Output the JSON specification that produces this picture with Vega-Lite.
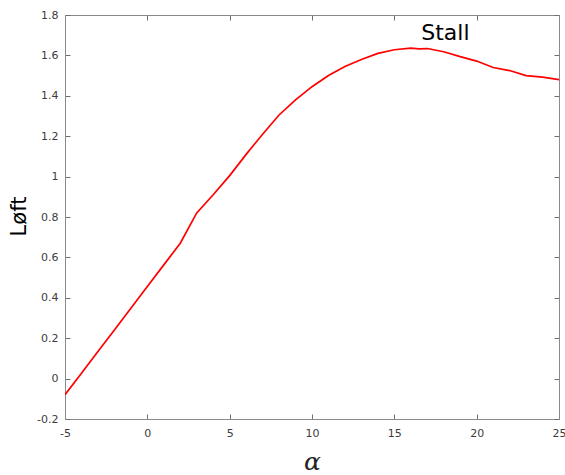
{
  "$schema": "https://vega.github.io/schema/vega-lite/v6.json",
  "autosize": "none",
  "width": 494,
  "height": 404,
  "padding": {"left": 65, "top": 15, "right": 6, "bottom": 56},
  "background": "white",
  "config": {
    "view": {"stroke": null},
    "axis": {
      "grid": false,
      "ticks": true,
      "domainColor": "#8a8a8a",
      "domainWidth": 1,
      "tickColor": "#707070",
      "tickWidth": 1,
      "tickSize": -5,
      "labelFont": "DejaVu Sans",
      "labelFontSize": 11,
      "labelColor": "#3c3c3c",
      "labelFlush": false,
      "labelOverlap": false
    }
  },
  "datasets": {
    "curve": [
      {"a": -5, "L": -0.08},
      {"a": -4, "L": 0.027},
      {"a": -3, "L": 0.134},
      {"a": -2, "L": 0.241},
      {"a": -1, "L": 0.348},
      {"a": 0, "L": 0.456},
      {"a": 1, "L": 0.563},
      {"a": 2, "L": 0.67},
      {"a": 3, "L": 0.82},
      {"a": 4, "L": 0.91},
      {"a": 5, "L": 1.005},
      {"a": 6, "L": 1.11},
      {"a": 7, "L": 1.21},
      {"a": 8, "L": 1.305},
      {"a": 9, "L": 1.38},
      {"a": 10, "L": 1.445},
      {"a": 11, "L": 1.5},
      {"a": 12, "L": 1.545},
      {"a": 13, "L": 1.58},
      {"a": 14, "L": 1.61},
      {"a": 15, "L": 1.628},
      {"a": 16, "L": 1.636},
      {"a": 16.5, "L": 1.632},
      {"a": 17, "L": 1.634},
      {"a": 18, "L": 1.618},
      {"a": 19, "L": 1.594},
      {"a": 20, "L": 1.572},
      {"a": 21, "L": 1.54},
      {"a": 22, "L": 1.525},
      {"a": 23, "L": 1.5},
      {"a": 24, "L": 1.492},
      {"a": 25, "L": 1.48}
    ],
    "notes": [
      {"a": 18.1, "L": 1.71, "label": "Stall"}
    ]
  },
  "layer": [
    {
      "data": {"name": "curve"},
      "mark": {"type": "line", "color": "#ff0000", "strokeWidth": 1.7, "clip": true},
      "encoding": {
        "x": {
          "field": "a", "type": "quantitative",
          "scale": {"domain": [-5, 25], "nice": false, "zero": false},
          "axis": {
            "orient": "bottom",
            "values": [-5, 0, 5, 10, 15, 20, 25],
            "labelExpr": "'' + datum.value",
            "labelPadding": 13,
            "title": "α",
            "titleFont": "DejaVu Serif",
            "titleFontStyle": "italic",
            "titleFontWeight": "normal",
            "titleFontSize": 25,
            "titleColor": "#222222",
            "titleBaseline": "alphabetic",
            "titleX": 247,
            "titleY": 50
          }
        },
        "y": {
          "field": "L", "type": "quantitative",
          "scale": {"domain": [-0.2, 1.8], "nice": false, "zero": false},
          "axis": {
            "orient": "left",
            "values": [-0.2, 0, 0.2, 0.4, 0.6, 0.8, 1, 1.2, 1.4, 1.6, 1.8],
            "labelExpr": "'' + datum.value",
            "labelPadding": 12,
            "title": "Løft",
            "titleFont": "DejaVu Sans",
            "titleFontWeight": "normal",
            "titleFontSize": 21,
            "titleColor": "#000000",
            "titleBaseline": "alphabetic",
            "titleAngle": -90,
            "titleX": -40,
            "titleY": 201
          }
        }
      }
    },
    {
      "data": {"name": "notes"},
      "mark": {"type": "text", "font": "DejaVu Sans", "fontSize": 22, "color": "#000000", "align": "center", "baseline": "middle"},
      "encoding": {
        "x": {
          "field": "a", "type": "quantitative",
          "axis": {"orient": "top", "values": [-5, 0, 5, 10, 15, 20, 25], "labels": false, "title": null}
        },
        "y": {
          "field": "L", "type": "quantitative",
          "axis": {"orient": "right", "values": [-0.2, 0, 0.2, 0.4, 0.6, 0.8, 1, 1.2, 1.4, 1.6, 1.8], "labels": false, "title": null}
        },
        "text": {"field": "label"}
      }
    }
  ],
  "resolve": {"axis": {"x": "independent", "y": "independent"}}
}
